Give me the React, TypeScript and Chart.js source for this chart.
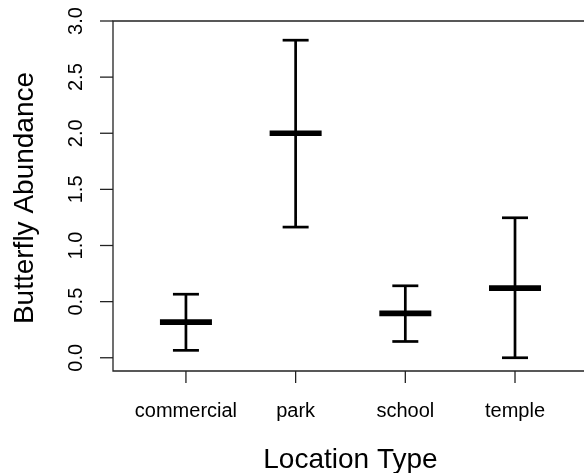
import React, { useEffect, useRef } from "react";
import { Chart, registerables } from "chart.js";

Chart.register(...registerables);

// ---- data ----
const categories = ["commercial", "park", "school", "temple"];
const means = [0.318, 2.0, 0.395, 0.621];
const lowers = [0.066, 1.164, 0.145, 0.0];
const uppers = [0.566, 2.829, 0.641, 1.247];
const yTicks = [0, 0.5, 1.0, 1.5, 2.0, 2.5, 3.0];
const yTickLabels = ["0.0", "0.5", "1.0", "1.5", "2.0", "2.5", "3.0"];
const xTitle = "Location Type";
const yTitle = "Butterfly Abundance";

const FONT = '"Liberation Sans", Arial, sans-serif';

const rAxesPlugin = {
  id: "rAxes",
  beforeDatasetsDraw(chart: any) {
    const ctx = chart.ctx as CanvasRenderingContext2D;
    const a = chart.chartArea;
    const xs = chart.scales.x;
    const ys = chart.scales.y;
    ctx.save();
    ctx.strokeStyle = "#222";
    ctx.lineWidth = 1.3;
    ctx.beginPath();
    ctx.moveTo(a.right + 5, a.top);
    ctx.lineTo(a.left, a.top);
    ctx.lineTo(a.left, a.bottom);
    ctx.lineTo(a.right + 5, a.bottom);
    ctx.stroke();

    // y ticks + labels
    ctx.fillStyle = "#000";
    ctx.font = `20px ${FONT}`;
    ctx.textAlign = "center";
    ctx.textBaseline = "alphabetic";
    yTicks.forEach((v, i) => {
      const y = ys.getPixelForValue(v);
      ctx.beginPath();
      ctx.moveTo(a.left - 13, y);
      ctx.lineTo(a.left, y);
      ctx.stroke();
      ctx.save();
      ctx.translate(a.left - 31, y);
      ctx.rotate(-Math.PI / 2);
      ctx.fillText(yTickLabels[i], 0, 0);
      ctx.restore();
    });

    // x ticks + labels
    categories.forEach((c, i) => {
      const x = xs.getPixelForValue(i + 1);
      ctx.beginPath();
      ctx.moveTo(x, a.bottom);
      ctx.lineTo(x, a.bottom + 12);
      ctx.stroke();
      ctx.fillText(c, x, a.bottom + 45.5);
    });

    // titles
    ctx.font = `28px ${FONT}`;
    const xMid = (xs.getPixelForValue(1) + xs.getPixelForValue(4)) / 2;
    ctx.fillText(xTitle, xMid, a.bottom + 96.5);
    ctx.save();
    ctx.translate(a.left - 80, (a.top + a.bottom) / 2 + 2);
    ctx.rotate(-Math.PI / 2);
    ctx.fillText(yTitle, 0, 0);
    ctx.restore();

    ctx.restore();
  },
};

export default function App() {
  const canvasRef = useRef<HTMLCanvasElement | null>(null);

  useEffect(() => {
    const canvas = canvasRef.current;
    if (!canvas) return;

    const whiskerData: any[] = [];
    categories.forEach((_, i) => {
      whiskerData.push({ x: i + 1, y: lowers[i] });
      whiskerData.push({ x: i + 1, y: uppers[i] });
      whiskerData.push({ x: i + 1, y: null });
    });
    const capData: any[] = [];
    categories.forEach((_, i) => {
      capData.push({ x: i + 1, y: lowers[i] });
      capData.push({ x: i + 1, y: uppers[i] });
    });
    const meanData = categories.map((_, i) => ({ x: i + 1, y: means[i] }));

    const chart = new Chart(canvas, {
      type: "scatter",
      data: {
        datasets: [
          {
            type: "line",
            data: whiskerData,
            borderColor: "#000",
            borderWidth: 2.7,
            pointRadius: 0,
            spanGaps: false,
            fill: false,
          } as any,
          {
            data: capData,
            pointStyle: "line",
            pointRadius: 13,
            borderColor: "#000",
            borderWidth: 2.7,
            backgroundColor: "#000",
          },
          {
            data: meanData,
            pointStyle: "line",
            pointRadius: 26,
            borderColor: "#000",
            borderWidth: 5.7,
            backgroundColor: "#000",
          },
        ],
      },
      options: {
        animation: false,
        responsive: false,
        events: [],
        layout: { autoPadding: false, padding: { left: 113, top: 21, right: 0, bottom: 102 } },
        plugins: {
          legend: { display: false },
          tooltip: { enabled: false },
        },
        scales: {
          x: { type: "linear", display: false, min: 0.335, max: 4.629 },
          y: { type: "linear", display: false, min: -0.118, max: 3.0 },
        },
      },
      plugins: [rAxesPlugin],
    });

    return () => chart.destroy();
  }, []);

  return (
    <div style={{ position: "fixed", left: 0, top: 0, width: 584, height: 473, background: "#fff" }}>
      <canvas ref={canvasRef} width={584} height={473} style={{ width: 584, height: 473 }} />
    </div>
  );
}
